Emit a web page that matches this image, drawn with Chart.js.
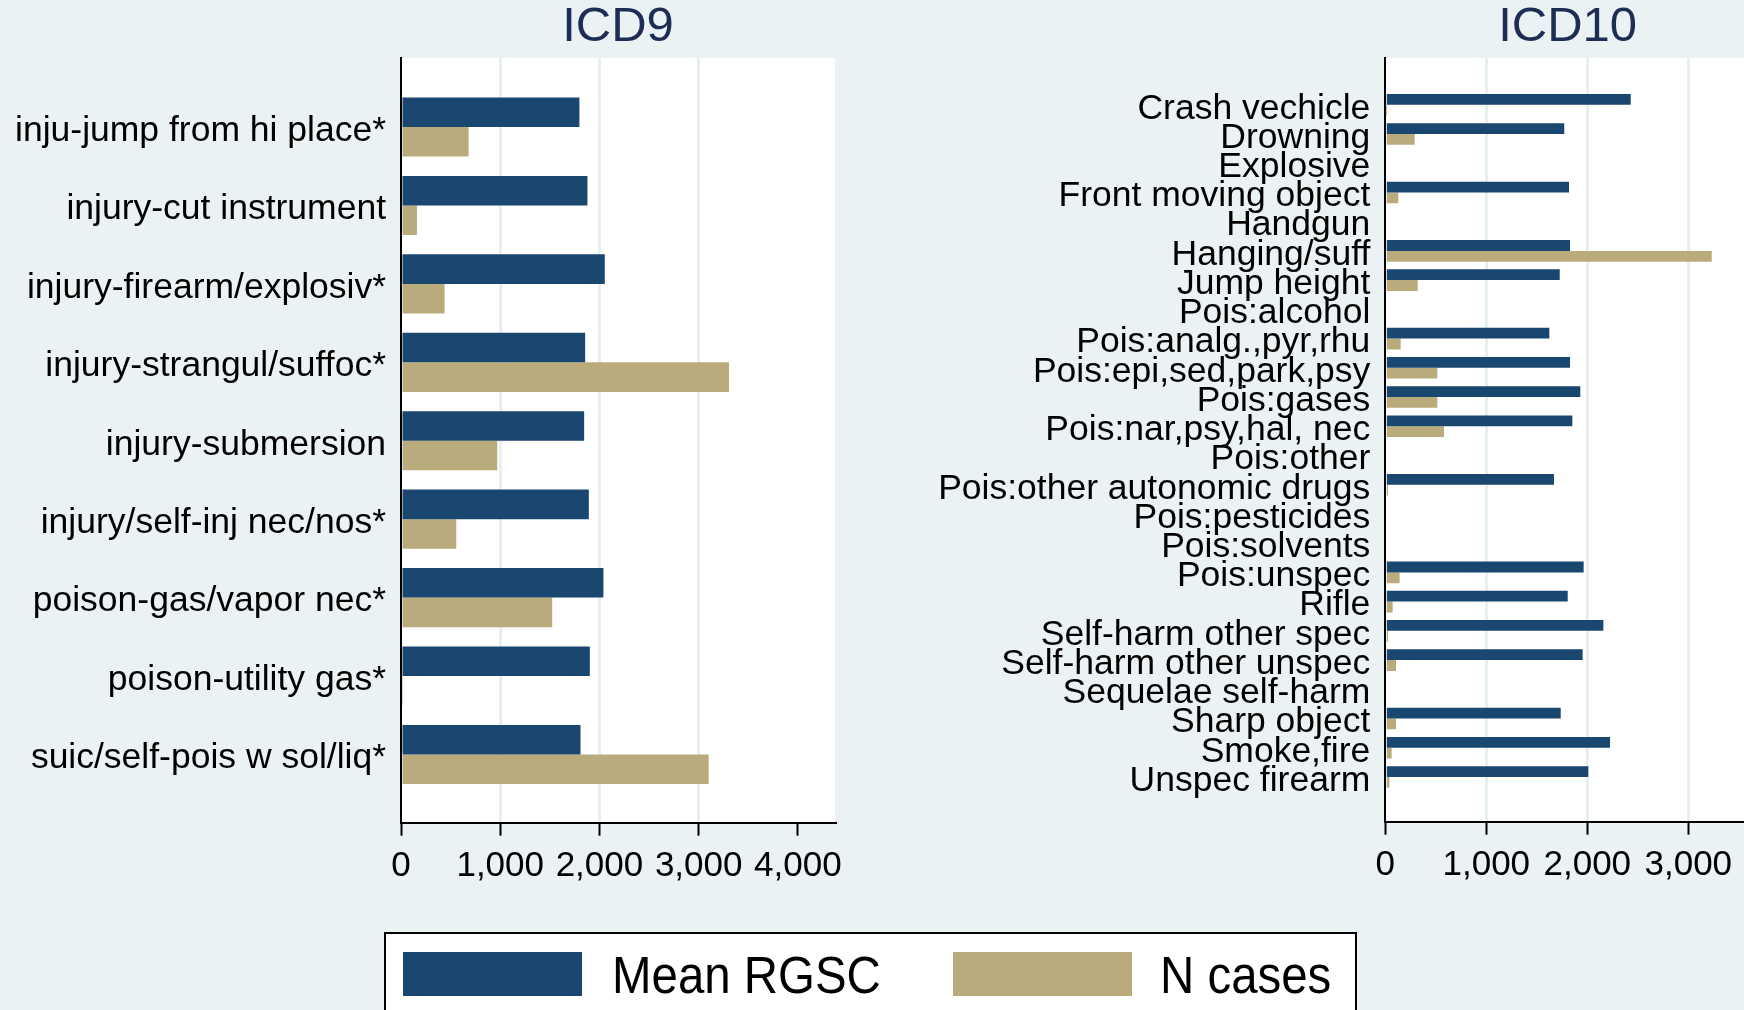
<!DOCTYPE html>
<html>
<head>
<meta charset="utf-8">
<script src="https://cdn.jsdelivr.net/npm/chart.js@4.4.1/dist/chart.umd.min.js"></script>
<style>
html, body { margin: 0; padding: 0; background: #eaf2f3; overflow: hidden; width: 1744px; height: 1010px; position: relative; font-family: "Liberation Sans", Arial, sans-serif; }
#c9 { position: absolute; left: 0; top: 0; }
#c10 { position: absolute; left: 900px; top: 0; }
#legend { position: absolute; left: 384px; top: 932px; width: 973px; height: 100px; background: #fff; border: 2px solid #000; box-sizing: border-box; }
#legend .sw { position: absolute; top: 18px; width: 179px; height: 44px; }
#legend .txt { position: absolute; top: 16px; font-size: 51px; line-height: 51px; color: #000; white-space: nowrap; transform: scaleX(0.93); transform-origin: left top; }
</style>
</head>
<body>
<canvas id="c9" width="860" height="890"></canvas>
<canvas id="c10" width="850" height="890"></canvas>
<div id="legend">
  <div class="sw" style="left:17px; background:#1a476f"></div>
  <div class="txt" style="left:226px">Mean RGSC</div>
  <div class="sw" style="left:567px; background:#baab7d"></div>
  <div class="txt" style="left:774px">N cases</div>
</div>
<script>
// ICD9 panel
const icd9Labels = ['inju-jump from hi place*', 'injury-cut instrument', 'injury-firearm/explosiv*',
    'injury-strangul/suffoc*', 'injury-submersion', 'injury/self-inj nec/nos*',
    'poison-gas/vapor nec*', 'poison-utility gas*', 'suic/self-pois w sol/liq*'];
const icd9Mean = [1798, 1879, 2054, 1856, 1846, 1893, 2040, 1903, 1809];
const icd9N = [681, 161, 439, 3306, 970, 557, 1524, 20, 3101];
const icd9Ticks = [0, 1000, 2000, 3000, 4000];

// ICD10 panel
const icd10Labels = ['Crash vechicle', 'Drowning', 'Explosive', 'Front moving object', 'Handgun',
    'Hanging/suff', 'Jump height', 'Pois:alcohol', 'Pois:analg.,pyr,rhu', 'Pois:epi,sed,park,psy',
    'Pois:gases', 'Pois:nar,psy,hal, nec', 'Pois:other', 'Pois:other autonomic drugs',
    'Pois:pesticides', 'Pois:solvents', 'Pois:unspec', 'Rifle', 'Self-harm other spec',
    'Self-harm other unspec', 'Sequelae self-harm', 'Sharp object', 'Smoke,fire', 'Unspec firearm'];
const icd10Mean = [2430, 1772, null, 1819, null, 1829, 1727, null, 1624, 1829, 1931, 1852, null,
    1670, null, null, 1964, 1806, 2159, 1954, null, 1737, 2225, 2010];
const icd10N = [5, 291, null, 129, null, 3232, 321, null, 152, 515, 515, 581, null,
    27, null, null, 142, 73, 27, 106, null, 106, 63, 40];
const icd10Ticks = [0, 1000, 2000, 3000];

const seriesNames = ['Mean RGSC', 'N cases'];
const navy = '#1a476f';
const sand = '#baab7d';
const bg = '#e6eff2';
const fontFamily = '"Liberation Sans", Arial, sans-serif';

// white plot region like Stata's plotregion
const plotBg = {
    id: 'plotBg',
    beforeDraw(chart) {
        const { ctx, chartArea: a } = chart;
        ctx.save();
        ctx.fillStyle = '#fff';
        ctx.fillRect(a.left, a.top, a.right - a.left, a.bottom - a.top);
        ctx.restore();
    }
};

function makePanel(canvasId, title, labels, mean, n, xTicks, cfg) {
    const toPoints = arr => arr.map((v, i) => ({ x: v, y: i }));
    return new Chart(document.getElementById(canvasId), {
        type: 'bar',
        data: {
            datasets: [
                { label: seriesNames[0], data: toPoints(mean), backgroundColor: navy },
                { label: seriesNames[1], data: toPoints(n), backgroundColor: sand }
            ]
        },
        plugins: [plotBg],
        options: {
            indexAxis: 'y',
            responsive: false,
            animation: false,
            categoryPercentage: cfg.catPct,
            barPercentage: 1,
            layout: { padding: { top: 0, left: 0, bottom: 0, right: cfg.padRight } },
            plugins: {
                legend: { display: false },
                tooltip: { enabled: false },
                title: {
                    display: true,
                    text: title,
                    fullSize: false,
                    color: '#1e2d54',
                    font: { size: 49, family: fontFamily, weight: 'normal', lineHeight: 1 },
                    padding: { top: 3, bottom: 6 }
                }
            },
            scales: {
                x: {
                    type: 'linear',
                    bounds: 'data',
                    min: 0,
                    max: cfg.xMax,
                    afterBuildTicks: s => { s.ticks = xTicks.map(v => ({ value: v })); },
                    ticks: {
                        maxRotation: 0,
                        autoSkip: false,
                        color: '#000',
                        padding: 10,
                        font: { size: 35, family: fontFamily }
                    },
                    grid: {
                        color: c => (c.tick && c.tick.value > 0 && c.tick.value < cfg.gridLimit) ? bg : 'rgba(0,0,0,0)',
                        lineWidth: 3,
                        tickColor: '#000',
                        tickWidth: 2,
                        tickLength: 13
                    },
                    border: { display: true, color: '#000', width: 2 },
                    afterFit: s => { s.height = cfg.xHeight; }
                },
                y: {
                    type: 'linear',
                    bounds: 'data',
                    offset: false,
                    reverse: true,
                    min: cfg.yMin,
                    max: cfg.yMax,
                    afterBuildTicks: s => { s.ticks = labels.map((_, i) => ({ value: i })); },
                    ticks: {
                        autoSkip: false,
                        color: '#000',
                        padding: 15,
                        labelOffset: 4,
                        font: { size: 35.5, family: fontFamily, lineHeight: 1 },
                        callback: v => labels[v]
                    },
                    grid: { display: false, drawTicks: false, offset: false },
                    border: { display: true, color: '#000', width: 2 },
                    afterFit: s => { s.width = cfg.yWidth; }
                }
            }
        }
    });
}

makePanel('c9', 'ICD9', icd9Labels, icd9Mean, icd9N, icd9Ticks, {
    catPct: 0.754, padRight: 25, xMax: 4374, gridLimit: 3500,
    xHeight: 67.3, yMin: -0.88, yMax: 8.87, yWidth: 401
});

makePanel('c10', 'ICD10', icd10Labels, icd10Mean, icd10N, icd10Ticks, {
    catPct: 0.74, padRight: 0, xMax: 3611, gridLimit: 3500,
    xHeight: 68.3, yMin: -1.6, yMax: 24.53, yWidth: 485.3
});
</script>
</body>
</html>
